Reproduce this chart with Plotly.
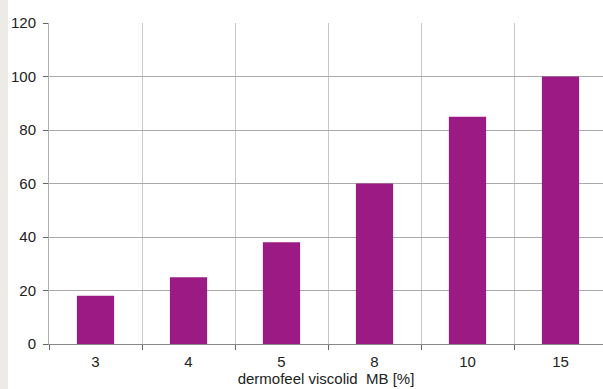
import plotly.graph_objects as go

categories = ["3", "4", "5", "8", "10", "15"]
values = [18, 25, 38, 60, 85, 100]
x_title = "dermofeel viscolid  MB [%]"
y_ticks = [0, 20, 40, 60, 80, 100, 120]

W, H = 603, 389
L, R, T, B = 49, 0, 23, 45
cat_px = 93.0
plot_w = W - L - R

fig = go.Figure(go.Bar(
    x=categories, y=values, width=0.4,
    marker=dict(color="#9C1A84", line=dict(width=0)),
))

font = dict(family="Liberation Sans, Arial, sans-serif", size=15, color="#222222")

fig.update_layout(
    width=W, height=H,
    margin=dict(l=L, r=R, t=T, b=B, pad=0),
    paper_bgcolor="white", plot_bgcolor="white",
    font=font, showlegend=False,
    shapes=[dict(type="rect", xref="paper", yref="paper",
                 x0=-L / plot_w, x1=-(L - 8) / plot_w, y0=-2, y1=2,
                 fillcolor="#ECEBE6", line=dict(width=0), layer="below")],
)
fig.update_xaxes(
    type="category", tickson="boundaries",
    range=[-0.5, -0.5 + plot_w / cat_px],
    showgrid=True, gridcolor="#C8C8C8", gridwidth=1,
    ticks="outside", ticklen=5, tickcolor="#666666",
    showline=True, linecolor="#888888", linewidth=1,
    ticklabelstandoff=4,
    title=dict(text=x_title, standoff=1, font=dict(size=15)),
    tickfont=dict(size=15),
)
fig.update_yaxes(
    range=[0, 120], tickvals=y_ticks,
    showgrid=True, gridcolor="#AAAAAA", gridwidth=1,
    ticks="outside", ticklen=5, tickcolor="#666666",
    showline=True, linecolor="#B0B0B0", linewidth=1,
    ticklabelstandoff=4,
    zeroline=False, tickfont=dict(size=15),
)

fig.write_html("out.html",
               config={"displayModeBar": False, "staticPlot": True},
               post_script="document.body.style.margin='0px';document.body.style.overflow='hidden';")
